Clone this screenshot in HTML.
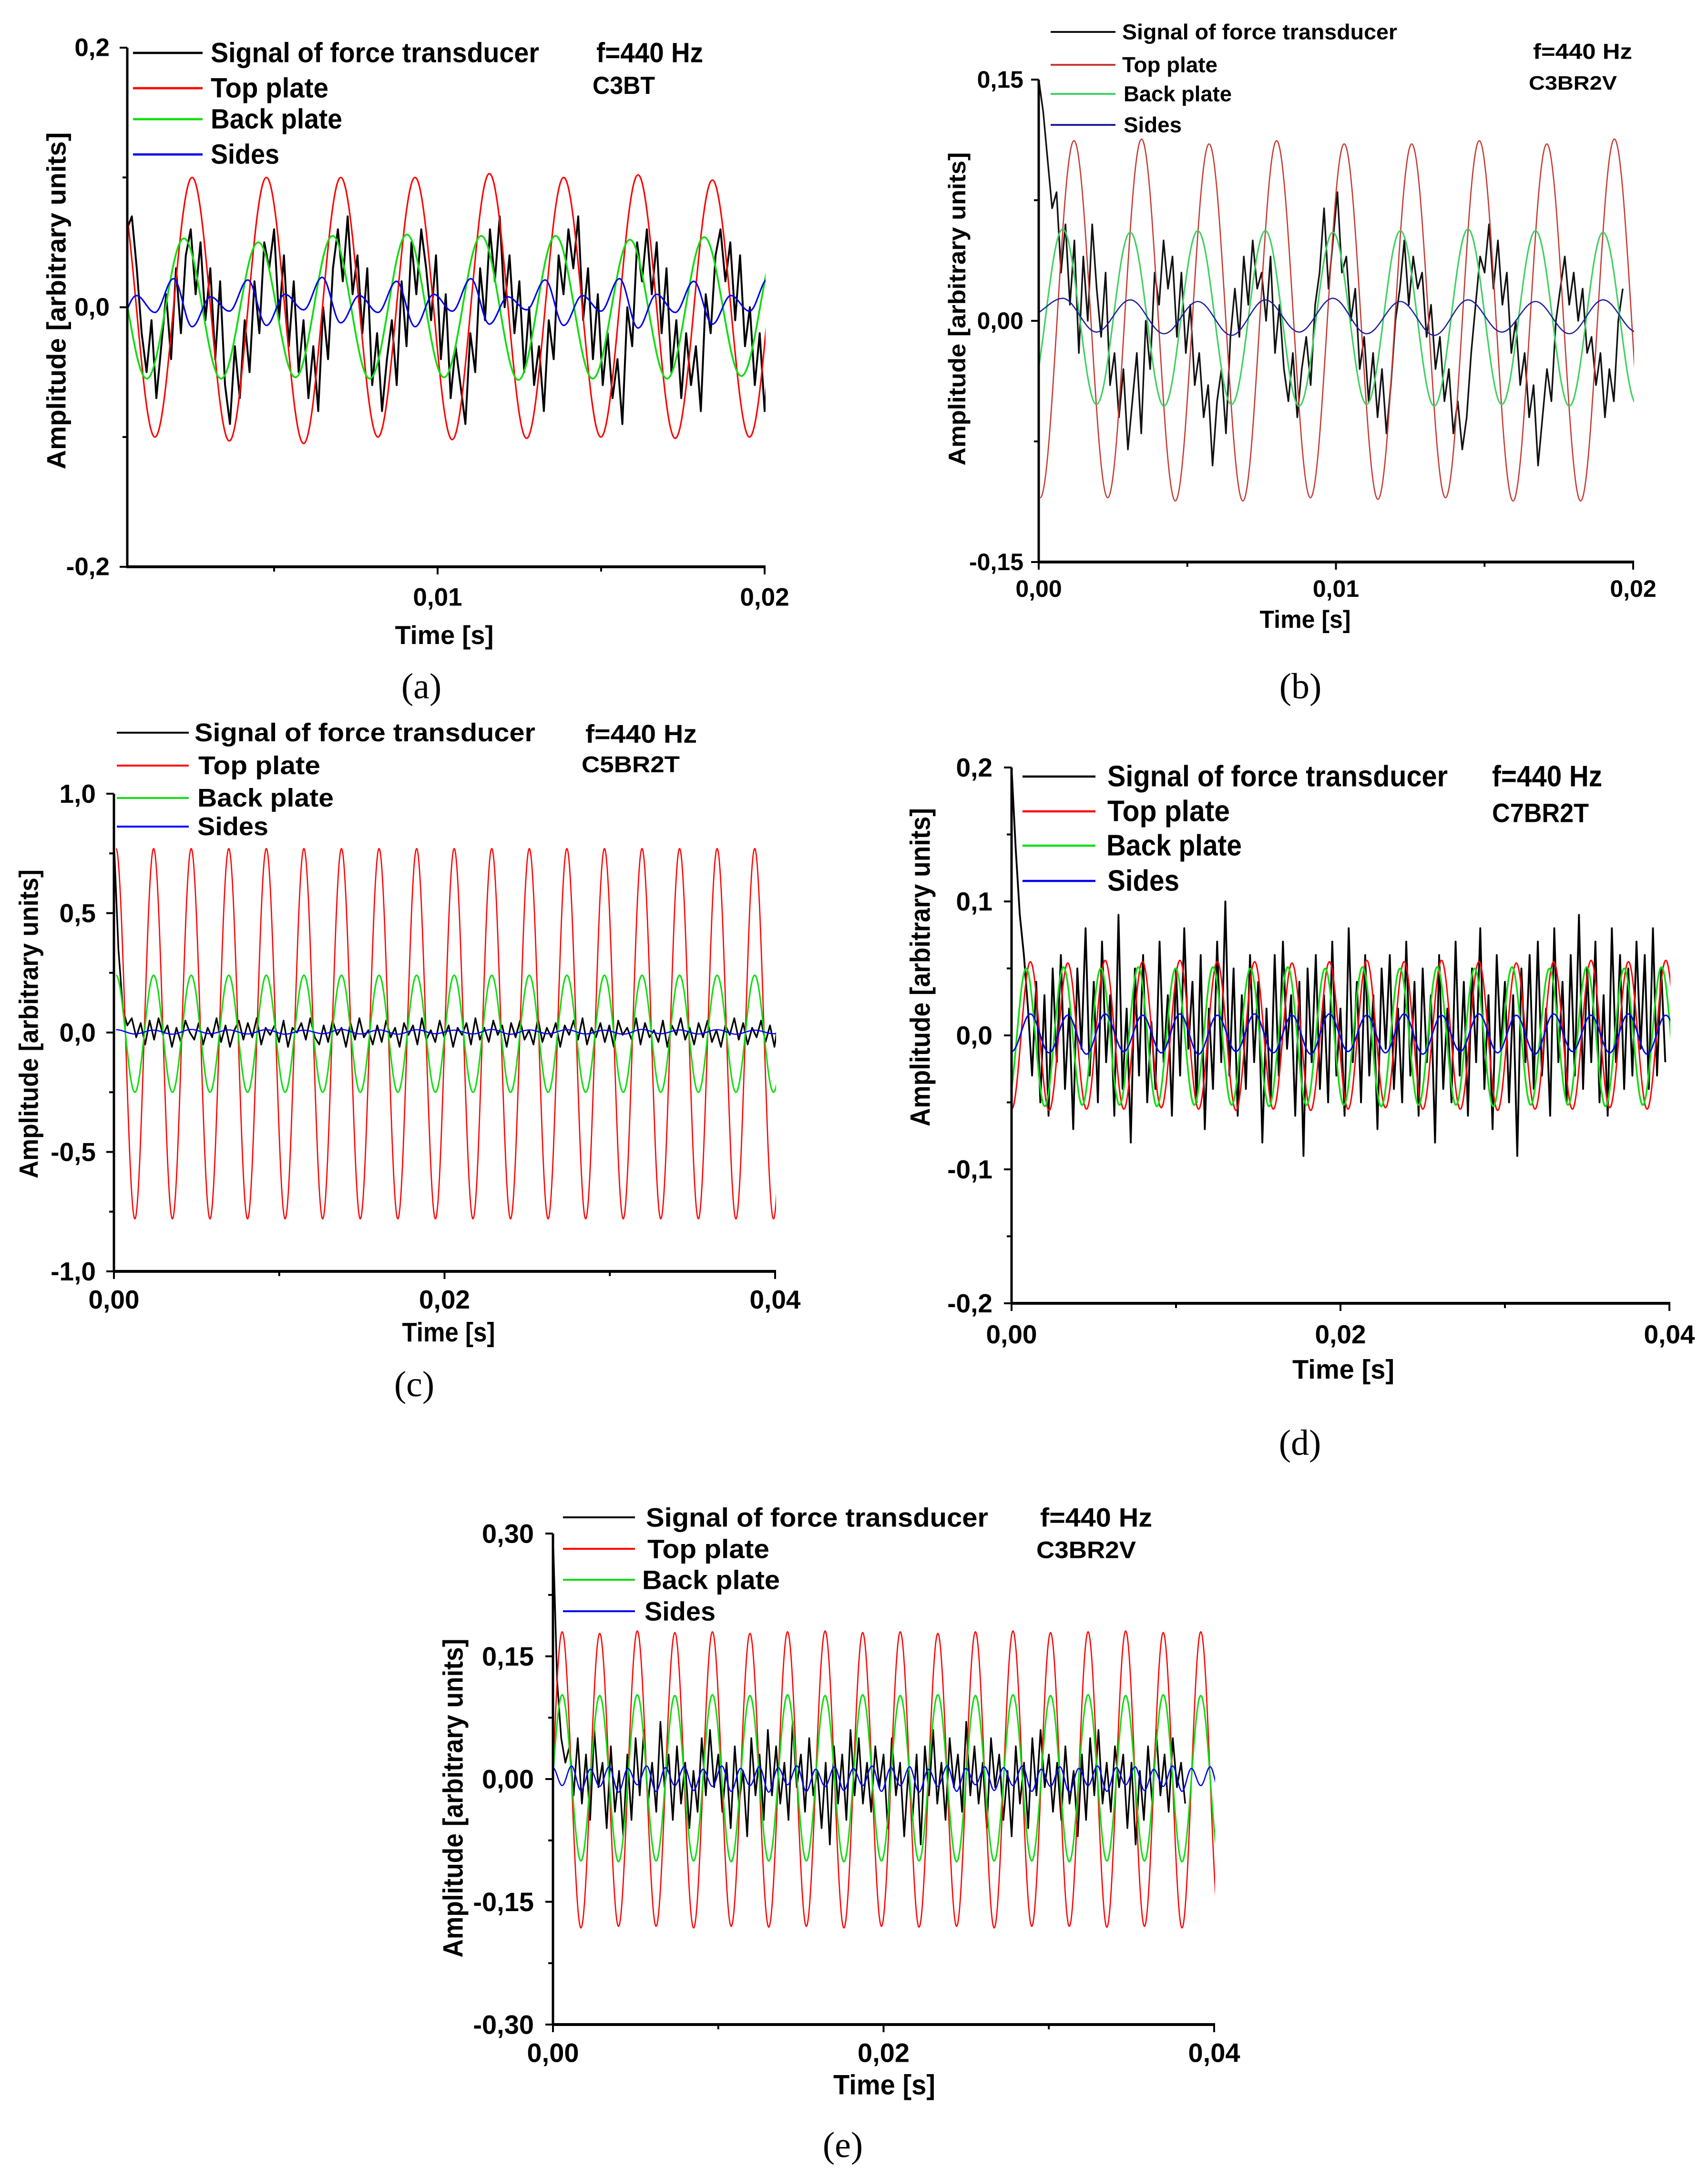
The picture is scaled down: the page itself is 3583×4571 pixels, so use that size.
<!DOCTYPE html>
<html><head><meta charset="utf-8"><title>Force transducer and plate signals, f=440 Hz</title>
<style>html,body{margin:0;padding:0;background:#fff}svg{display:block}</style></head>
<body>
<svg id="fig" xmlns="http://www.w3.org/2000/svg" width="3583" height="4571" viewBox="0 0 3583 4571">
<rect x="0" y="0" width="3583" height="4571" fill="#fff"/>
</svg>
<script>
// ---------- DATA (values in hundredths of the y-unit: value = v*0.01) ----------
const HALF = 1/880;      // half period of 440 Hz
const QUART = 1/1760;    // quarter period

// Panel a (C3BT)
const redA = [10,-10,10,-10.3,10,-10.5,10,-10,10,-10.2,10.3,-10.1,10,-10,10.2,-10.1,9.8,-10,10];
const greenA = [5,-5.5,5.3,-5.5,5,-5.4,5.5,-5.5,5.6,-5.4,5.5,-5.6,5.5,-5.5,5.2,-5.5,5.4,-5.3,5.2,-5.4];
const blueA = [-1.3,0.9,-0.4,2.2,-1.5,0.8,-0.3,2.1,-1.4,1.0,-0.2,2.3,-1.2,0.9,-0.4,2.0,-1.5,1.0,-0.3,2.2,-1.3,0.8,-0.2,2.1,-1.4,0.9,-0.3,2.2,-1.6,1.0,-0.4,2.0,-1.3,0.9,-0.3,2.2,-1.2];
const blackA = [6,7,3,-2,-5,-1,-7,-3,1,-4,3,-2,4,6,1,5,-1,3,-4,2,-6,-9,-3,-7,-1,-5,2,-2,5,3,6,-1,4,-3,2,-5,-1,-7,-3,-8,0,-4,3,6,2,7,1,4,-2,3,-6,-2,-8,-4,-1,-6,2,-3,5,1,6,3,-1,4,-4,1,-7,-3,-6,-9,-2,-5,3,-1,6,2,7,0,4,-2,2,-5,0,-6,-3,-8,-1,-4,4,1,6,3,7,-1,3,-4,1,-6,-2,-7,-4,-9,0,-3,5,2,6,1,5,-2,3,-5,-1,-7,-2,-6,-3,-8,1,-2,4,6,2,5,-1,4,-3,0,-6,-2,-8,-3,-5];

// Panel b (C3BR2V)
const redB = [-11,11.2,-11,11.3,-11.2,11,-11.2,11.2,-11,11,-11.1,11,-11,11.2,-11.2,11,-11.2,11.3,-10.5];
const greenB = [-5,5.7,-5.2,5.5,-5.3,5.6,-5.2,5.6,-5.3,5.5,-5.2,5.6,-5.3,5.7,-5.2,5.6,-5.3,5.5,-5.2,5.6];
const blueB = [0.3,1.4,-0.7,1.3,-0.8,1.2,-0.9,1.3,-0.7,1.4,-0.8,1.2,-0.9,1.3,-0.7,1.2,-0.8,1.3,-0.7,1.1];
const blackB = [15,13,10,7,8,3,6,1,5,-2,4,0,6,2,-1,3,-4,-2,-6,-3,-8,-5,-2,-7,0,-3,3,1,5,2,4,-1,3,-2,1,-4,-2,-6,-4,-9,-5,-3,-7,-1,2,-1,4,1,5,2,3,0,4,-2,1,-3,-5,-2,-6,-3,-1,-4,1,3,7,2,5,8,3,4,0,2,-3,-1,-5,-2,-6,-3,-7,-4,0,2,5,1,4,2,3,-1,1,-3,-1,-5,-3,-7,-5,-8,-6,-2,1,4,3,6,2,5,1,3,-2,0,-4,-2,-6,-4,-9,-6,-3,-5,0,2,4,1,3,0,2,-2,-1,-4,-2,-6,-3,-5,0,2];

// Panel c (C5BR2T)
const redC = [77,-78,77,-78,77,-78,77,-78,77,-78,77,-78,77,-78,77,-78,77,-78,77,-78,77,-78,77,-78,77,-78,77,-78,77,-78,77,-78,77,-78,77,-78,77];
const greenC = [24,-25,24,-25,24,-25,24,-25,24,-25,24,-25,24,-25,24,-25,24,-25,24,-25,24,-25,24,-25,24,-25,24,-25,24,-25,24,-25,24,-25,24,-25,24];
const blueC = [1.2,-0.6,1.0,-0.7,1.3,-0.5,1.1,-0.6,1.2,-0.7,1.0,-0.5,1.3,-0.6,1.1,-0.7,1.2,-0.5,1.0,-0.6,1.3,-0.7,1.1,-0.5,1.2,-0.6,1.0,-0.7,1.3,-0.5,1.1,-0.6,1.2,-0.7,1.0,-0.5,1.2];
const blackC = [80,35,10,3,6,-2,4,-5,5,-3,6,-1,3,-6,2,-4,5,0,-3,4,-5,2,-2,6,-4,3,-6,1,5,-3,4,-2,6,-5,2,-1,3,-4,5,-6,2,0,4,-3,6,-2,-5,3,-4,5,-1,2,-6,4,-3,6,-2,1,-5,3,-4,5,-2,2,-6,4,-1,3,-5,6,-3,1,-4,5,-2,3,-6,2,-1,4,-5,6,-3,2,-4,5,-1,3,-6,4,-2,5,-3,1,-5,6,-4,2,-2,4,-6,3,-1,5,-3,6,-5,2,-2,4,-4,3,-6,5,-1,2,-3,6,-5,4,-2,1,-4,5,-6,3,-1,6,-3,2,-5,4,-2,5,-4,1,-6,3,-1,6,-3,4,-5,2,-2,5,-4,3,-6,6,-1,2];

// Panel d (C7BR2T)
const redD = [-5.5,5.5,-5.6,5.4,-5.5,5.6,-5.5,5.5,-5.4,5.6,-5.5,5.5,-5.6,5.5,-5.5,5.4,-5.6,5.5,-5.5,5.6,-5.4,5.5,-5.5,5.6,-5.5,5.5,-5.6,5.4,-5.5,5.5,-5.5,5.6,-5.4,5.5,-5.5,5.6,-5.5];
const greenD = [-5.2,5.0,-5.3,5.1,-5.2,5.0,-5.2,5.1,-5.3,5.0,-5.2,5.1,-5.2,5.0,-5.3,5.1,-5.2,5.0,-5.2,5.1,-5.3,5.0,-5.2,5.1,-5.2,5.0,-5.3,5.1,-5.2,5.0,-5.2,5.1,-5.3,5.0,-5.2,5.1,-5.2];
const blueD = [-1.2,1.6,-1.3,1.5,-1.4,1.6,-1.2,1.5,-1.3,1.6,-1.4,1.5,-1.2,1.6,-1.3,1.5,-1.4,1.6,-1.2,1.5,-1.3,1.6,-1.4,1.5,-1.2,1.6,-1.3,1.5,-1.4,1.6,-1.2,1.5,-1.3,1.6,-1.4,1.5,-1.2];
const blackD = [20,14,9,6,2,-3,4,-5,3,-6,5,-2,6,-4,2,-7,5,-1,8,-3,4,-5,7,-2,3,-6,9,-4,2,-8,5,-3,6,-5,1,-4,7,-2,3,-6,5,-3,8,-1,4,-5,6,-7,2,-4,7,-2,10,-3,5,-6,3,-4,6,-2,4,-8,2,-5,6,-3,7,-1,3,-6,4,-9,5,-2,6,-4,3,-5,7,-3,2,-6,8,-2,4,-5,6,-3,3,-7,5,-1,6,-4,2,-5,7,-3,4,-6,5,-2,3,-8,6,-4,2,-5,7,-3,4,-6,5,-2,8,-4,3,-7,6,-1,4,-5,3,-9,5,-2,6,-4,7,-3,2,-6,8,-2,4,-5,6,-3,9,-4,5,-2,7,-5,3,-6,8,-2,6,-4,5,-3,7,-1,6,-4,8,-3,5,-2];

// Panel e (C3BR2V)
const redE = [-18,18,-18.2,17.8,-18,18.1,-18,17.9,-18.2,18,-18,17.8,-18.1,18,-18,18.1,-18.2,17.9,-18,18,-18.1,17.8,-18,18,-18.2,18.1,-18,17.9,-18,18,-18.1,18.1,-18,17.9,-18.2,18,-18,18];
const greenE = [-10,10.3,-10,10.2,-10.1,10.3,-10,10.2,-10,10.3,-10.1,10.2,-10,10.3,-10,10.2,-10.1,10.3,-10,10.2,-10,10.3,-10.1,10.2,-10,10.3,-10,10.2,-10.1,10.3,-10,10.2,-10,10.3,-10.1,10.2,-10,10.3];
const blueE = [-1.5,1.4,-0.8,1.6,-1.4,1.2,-0.9,1.5,-1.6,1.3,-0.7,1.6,-1.5,1.4,-0.8,1.5,-1.4,1.2,-0.9,1.6,-1.5,1.3,-0.8,1.5,-1.6,1.4,-0.7,1.6,-1.5,1.2,-0.9,1.5,-1.4,1.3,-0.8,1.6,-1.5,1.4,-0.8,1.5,-1.6,1.2,-0.9,1.6,-1.5,1.3,-0.7,1.5,-1.4,1.4,-0.8,1.6,-1.5,1.2,-0.9,1.5,-1.6,1.3,-0.8,1.6,-1.5,1.4,-0.7,1.5,-1.4,1.2,-0.9,1.6,-1.5,1.3,-0.8,1.5,-1.6,1.4];
const blackE = [30,12,5,2,4,-2,5,-3,3,-5,6,-1,2,-6,4,-4,1,-7,3,-5,5,-2,6,-3,2,-4,7,-1,3,-5,4,-3,2,-6,1,-4,5,-2,6,-1,3,-4,2,-6,4,-3,1,-7,5,-2,3,-5,6,-2,4,-3,2,-5,7,-1,3,-4,5,-2,1,-6,2,-8,4,-3,3,-5,6,-2,5,-3,2,-4,4,-1,3,-6,5,-2,2,-7,1,-5,3,-8,4,-2,6,-3,2,-5,5,-1,3,-4,7,-2,4,-3,2,-6,5,-1,3,-5,1,-7,4,-3,2,-6,5,-2,6,-1,3,-4,2,-5,4,-3,1,-7,3,-5,5,-2,6,-3,2,-4,4,-1,3,-6,2,-8,1,-5,4,-3,6,-2,3,-4,5,-1,2,-3];

// Tick values / labels
const yTicksA = [0.2, 0, -0.2];      const yLabelsA = ['0,2','0,0','-0,2'];
const xTicksA = [0.01, 0.02];        const xLabelsA = ['0,01','0,02'];
const yTicksB = [0.15, 0, -0.15];    const yLabelsB = ['0,15','0,00','-0,15'];
const xTicksB = [0, 0.01, 0.02];     const xLabelsB = ['0,00','0,01','0,02'];
const yTicksC = [1, 0.5, 0, -0.5, -1]; const yLabelsC = ['1,0','0,5','0,0','-0,5','-1,0'];
const xTicksC = [0, 0.02, 0.04];     const xLabelsC = ['0,00','0,02','0,04'];
const yTicksD = [0.2, 0.1, 0, -0.1, -0.2]; const yLabelsD = ['0,2','0,1','0,0','-0,1','-0,2'];
const xTicksD = [0, 0.02, 0.04];     const xLabelsD = ['0,00','0,02','0,04'];
const yTicksE = [0.3, 0.15, 0, -0.15, -0.3]; const yLabelsE = ['0,30','0,15','0,00','-0,15','-0,30'];
const xTicksE = [0, 0.02, 0.04];     const xLabelsE = ['0,00','0,02','0,04'];

// ---------- RENDERING ----------
const NS = 'http://www.w3.org/2000/svg';
const svg = document.getElementById('fig');
function mk(tag, attrs, parent, name) {
  const el = document.createElementNS(NS, tag);
  for (const k in attrs) el.setAttribute(k, attrs[k]);
  
  
  parent.appendChild(el);
  if (attrs.text !== undefined) { el.removeAttribute('text'); el.textContent = attrs.text; }
  return el;
}

const panels = [
 {id:'a', tmax:0.02, px0:232, px1:1604, axStart:267, ymin:-0.2, ymax:0.2, py0:1189, py1:100,
  yT:yTicksA, yL:yLabelsA, xT:xTicksA, xL:xLabelsA, yMinor:[0.1,-0.1], xMinor:[0.005,0.015],
  fs:53, lblR:230, xLblY:1253, time:[932,1332,207], ytitle:[118,631,707], yfs:56,
  lines:[279,425], textX:[442,442,442,442], rows:[111,185,250,324], lfs:58, lw:[689,247,276,144],
  f:[1251,111,224], lab:[1243,180,131,'C3BT'], cap:[884,1440,'(a)'], narrow:true,
  col:['#000','#ff0000','#11dd11','#0000ee'], sw:3.2,
  red:[redA,0.00022,HALF], green:[greenA,-0.00003,HALF], blue:[blueA,0.00022,QUART], black:[blackA,0.0005,0.00015]},
 {id:'b', tmax:0.02, px0:2179, px1:3426, axStart:2179, ymin:-0.15, ymax:0.15, py0:1179, py1:167,
  yT:yTicksB, yL:yLabelsB, xT:xTicksB, xL:xLabelsB, yMinor:[0.075,-0.075], xMinor:[0.005,0.015],
  fs:50, lblR:2147, xLblY:1235, time:[2738,1300,191], ytitle:[2008,648,657], yfs:50,
  lines:[2204,2340], textX:[2354,2354,2357,2357], rows:[67,136,197,262], lfs:45, lw:[577,200,227,122],
  f:[3216,108,208], lab:[3207,174,185,'C3BR2V'], cap:[2728,1440,'(b)'], narrow:false,
  col:['#111','#c53a34','#3fd062','#1e1e9e'], sw:2.6,
  red:[redB,0.00005,HALF], green:[greenB,-0.00033,HALF], blue:[blueB,-0.00033,HALF], black:[blackB,0,0.00015]},
 {id:'c', tmax:0.04, px0:239, px1:1626, axStart:239, ymin:-1, ymax:1, py0:2667, py1:1665,
  yT:yTicksC, yL:yLabelsC, xT:xTicksC, xL:xLabelsC, yMinor:[0.75,0.25,-0.25,-0.75], xMinor:[0.01,0.03],
  fs:55, lblR:201, xLblY:2726, time:[941,2795,195], ytitle:[60,2148,648], yfs:56,
  lines:[245,396], textX:[408,416,414,414], rows:[1537,1606,1674,1734], lfs:54, lw:[715,256,286,149],
  f:[1228,1540,234], lab:[1220,1604,206,'C5BR2T'], cap:[869,2904,'(c)'], narrow:false,
  col:['#000','#ff0000','#11dd11','#0000ff'], sw:2.6,
  red:[redC,0.00013,HALF], green:[greenC,0.00013,HALF], blue:[blueC,0.00013,HALF], black:[blackC,0,0.00027]},
 {id:'d', tmax:0.04, px0:2122, px1:3502, axStart:2122, ymin:-0.2, ymax:0.2, py0:2734, py1:1610,
  yT:yTicksD, yL:yLabelsD, xT:xTicksD, xL:xLabelsD, yMinor:[0.15,0.05,-0.05,-0.15], xMinor:[0.01,0.03],
  fs:55, lblR:2082, xLblY:2799, time:[2818,2873,214], ytitle:[1931,2029,668], yfs:58,
  lines:[2145,2298], textX:[2323,2323,2321,2323], rows:[1629,1702,1774,1848], lfs:62, lw:[714,257,284,151],
  f:[3130,1629,231], lab:[3130,1705,203,'C7BR2T'], cap:[2727,3027,'(d)'], narrow:true,
  col:['#000','#ff0000','#11dd11','#0000ee'], sw:3,
  red:[redD,0.00001,HALF], green:[greenD,-0.00025,HALF], blue:[blueD,0.00001,HALF], black:[blackD,0,0.00025]},
 {id:'e', tmax:0.04, px0:1160, px1:2547, axStart:1160, ymin:-0.3, ymax:0.3, py0:4247, py1:3217,
  yT:yTicksE, yL:yLabelsE, xT:xTicksE, xL:xLabelsE, yMinor:[0.225,0.075,-0.075,-0.225], xMinor:[0.01,0.03],
  fs:56, lblR:1120, xLblY:4306, time:[1855,4374,214], ytitle:[951,3772,669], yfs:58,
  lines:[1181,1332], textX:[1355,1358,1347,1352], rows:[3183,3249,3314,3380], lfs:56, lw:[718,256,289,149],
  f:[2182,3183,235], lab:[2174,3251,209,'C3BR2V'], cap:[1768,4500,'(e)'], narrow:true,
  col:['#000','#ff0000','#11dd11','#0000ee'], sw:2.6,
  red:[redE,-0.00058,HALF], green:[greenE,-0.00058,HALF], blue:[blueE,-0.00058,QUART], black:[blackE,0,0.00025]}
];

const legendNames = ['Signal of force transducer','Top plate','Back plate','Sides'];

panels.forEach(P => {
  const g = mk('g', {}, svg, 'panel-' + P.id);
  const xs = t => P.px0 + t / P.tmax * (P.px1 - P.px0);
  const ys = v => P.py0 + (v - P.ymin) / (P.ymax - P.ymin) * (P.py1 - P.py0);
  const font = P.narrow ? '"Liberation Sans Narrow","Liberation Sans",Arial,sans-serif' : '"Liberation Sans",Arial,sans-serif';

  const cp = mk('clipPath', {id:'clip-' + P.id}, g, 'plot-clip-' + P.id);
  mk('rect', {x:P.axStart, y:P.py1 - 2, width:P.px1 - P.axStart + 2, height:P.py0 - P.py1 + 2}, cp, 'plot-clip-rect');
  const plot = mk('g', {'clip-path':'url(#clip-' + P.id + ')'}, g, 'plot-area-' + P.id);

  function extremesPath(arr, t0, h) {
    let d = '';
    for (let i = 0; i < arr.length; i++) {
      const x = xs(t0 + i * h), y = ys(arr[i] * 0.01);
      if (i === 0) d += 'M' + x.toFixed(1) + ' ' + y.toFixed(1);
      else {
        const xp = xs(t0 + (i - 1) * h), yp = ys(arr[i - 1] * 0.01), dx = x - xp;
        d += ' C' + (xp + 0.36 * dx).toFixed(1) + ' ' + yp.toFixed(1) + ' ' + (x - 0.36 * dx).toFixed(1) + ' ' + y.toFixed(1) + ' ' + x.toFixed(1) + ' ' + y.toFixed(1);
      }
    }
    return d;
  }
  function polyPath(arr, t0, dt) {
    return arr.map((v, i) => (i ? 'L' : 'M') + xs(t0 + i * dt).toFixed(1) + ' ' + ys(v * 0.01).toFixed(1)).join(' ');
  }
  mk('path', {d:polyPath(P.black[0], P.black[1], P.black[2]), fill:'none', stroke:P.col[0], 'stroke-width':P.sw + 0.8, 'stroke-linejoin':'round'}, plot, 'series-force-transducer');
  mk('path', {d:extremesPath(P.red[0], P.red[1], P.red[2]), fill:'none', stroke:P.col[1], 'stroke-width':P.sw}, plot, 'series-top-plate');
  mk('path', {d:extremesPath(P.green[0], P.green[1], P.green[2]), fill:'none', stroke:P.col[2], 'stroke-width':P.sw + 0.6}, plot, 'series-back-plate');
  mk('path', {d:extremesPath(P.blue[0], P.blue[1], P.blue[2]), fill:'none', stroke:P.col[3], 'stroke-width':P.sw}, plot, 'series-sides');

  mk('line', {x1:P.axStart, y1:P.py1, x2:P.axStart, y2:P.py0, stroke:'#000', 'stroke-width':5}, g, 'y-axis-line');
  mk('line', {x1:P.axStart - 2, y1:P.py0, x2:P.px1 + 2, y2:P.py0, stroke:'#000', 'stroke-width':6}, g, 'x-axis-line');
  P.yT.forEach((v, i) => {
    mk('line', {x1:P.axStart - 16, y1:ys(v), x2:P.axStart, y2:ys(v), stroke:'#000', 'stroke-width':4}, g, 'y-tick');
    mk('text', {x:P.lblR, y:ys(v), 'text-anchor':'end', 'dominant-baseline':'central', 'font-family':font, 'font-weight':'bold', 'font-size':P.fs, fill:'#000', text:P.yL[i]}, g, 'y-tick-label');
  });
  P.yMinor.forEach(v => mk('line', {x1:P.axStart - 10, y1:ys(v), x2:P.axStart, y2:ys(v), stroke:'#000', 'stroke-width':4}, g, 'y-minor-tick'));
  P.xT.forEach((t, i) => {
    mk('line', {x1:xs(t), y1:P.py0, x2:xs(t), y2:P.py0 + 16, stroke:'#000', 'stroke-width':4}, g, 'x-tick');
    mk('text', {x:xs(t), y:P.xLblY, 'text-anchor':'middle', 'dominant-baseline':'central', 'font-family':font, 'font-weight':'bold', 'font-size':P.fs, fill:'#000', text:P.xL[i]}, g, 'x-tick-label');
  });
  P.xMinor.forEach(t => mk('line', {x1:xs(t), y1:P.py0, x2:xs(t), y2:P.py0 + 10, stroke:'#000', 'stroke-width':4}, g, 'x-minor-tick'));

  mk('text', {x:P.time[0], y:P.time[1], 'text-anchor':'middle', 'dominant-baseline':'central', 'font-family':font, 'font-weight':'bold', 'font-size':P.fs + 2, textLength:P.time[2], lengthAdjust:'spacingAndGlyphs', fill:'#000', text:'Time [s]'}, g, 'x-axis-title');
  mk('text', {x:0, y:0, transform:'translate(' + P.ytitle[0] + ',' + P.ytitle[1] + ') rotate(-90)', 'text-anchor':'middle', 'dominant-baseline':'central', 'font-family':font, 'font-weight':'bold', 'font-size':P.yfs, textLength:P.ytitle[2], lengthAdjust:'spacingAndGlyphs', fill:'#000', text:'Amplitude [arbitrary units]'}, g, 'y-axis-title');

  const lg = mk('g', {}, g, 'legend');
  legendNames.forEach((n, i) => {
    mk('line', {x1:P.lines[0], y1:P.rows[i], x2:P.lines[1], y2:P.rows[i], stroke:P.col[i], 'stroke-width':P.sw + 1.5}, lg, 'legend-swatch');
    mk('text', {x:P.textX[i], y:P.rows[i], 'dominant-baseline':'central', 'font-family':font, 'font-weight':'bold', 'font-size':P.lfs, textLength:P.lw[i], lengthAdjust:'spacingAndGlyphs', fill:'#000', text:n}, lg, 'legend-entry');
  });
  mk('text', {x:P.f[0], y:P.f[1], 'dominant-baseline':'central', 'font-family':font, 'font-weight':'bold', 'font-size':P.lfs, textLength:P.f[2], lengthAdjust:'spacingAndGlyphs', fill:'#000', text:'f=440 Hz'}, g, 'frequency-label');
  mk('text', {x:P.lab[0], y:P.lab[1], 'dominant-baseline':'central', 'font-family':font, 'font-weight':'bold', 'font-size':P.lfs * 0.9, textLength:P.lab[2], lengthAdjust:'spacingAndGlyphs', fill:'#000', text:P.lab[3]}, g, 'sample-label');
  mk('text', {x:P.cap[0], y:P.cap[1], 'text-anchor':'middle', 'dominant-baseline':'central', 'font-family':'"Liberation Serif",serif', 'font-size':76, fill:'#000', text:P.cap[2]}, g, 'panel-caption');
});
</script>
</body></html>
